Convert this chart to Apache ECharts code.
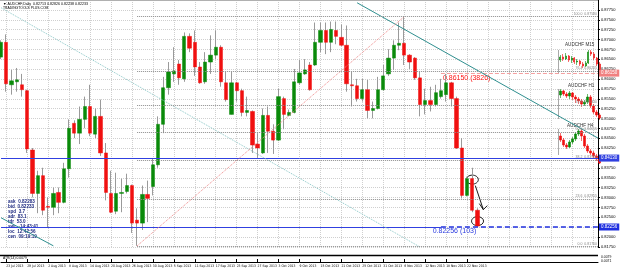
<!DOCTYPE html>
<html>
<head>
<meta charset="utf-8">
<script src="https://cdn.jsdelivr.net/npm/echarts@6/dist/echarts.min.js"></script>
<style>
  html, body { margin: 0; padding: 0; background: #fff; }
  #myChart { width: 625px; height: 271px; }
</style>
</head>
<body>
<div id="myChart"></div>
<script>
// daily bars, AUDCHF
const dates = [
  "22 Jul 2013", "23 Jul 2013", "24 Jul 2013", "25 Jul 2013", "26 Jul 2013", "29 Jul 2013", "30 Jul 2013", "31 Jul 2013",
  "1 Aug 2013", "2 Aug 2013", "5 Aug 2013", "6 Aug 2013", "7 Aug 2013", "8 Aug 2013", "9 Aug 2013",
  "12 Aug 2013", "13 Aug 2013", "14 Aug 2013", "15 Aug 2013", "16 Aug 2013",
  "19 Aug 2013", "20 Aug 2013", "21 Aug 2013", "22 Aug 2013", "23 Aug 2013",
  "26 Aug 2013", "27 Aug 2013", "28 Aug 2013", "29 Aug 2013", "30 Aug 2013",
  "2 Sep 2013", "3 Sep 2013", "4 Sep 2013", "5 Sep 2013", "6 Sep 2013",
  "9 Sep 2013", "10 Sep 2013", "11 Sep 2013", "12 Sep 2013", "13 Sep 2013",
  "16 Sep 2013", "17 Sep 2013", "18 Sep 2013", "19 Sep 2013", "20 Sep 2013",
  "23 Sep 2013", "24 Sep 2013", "25 Sep 2013", "26 Sep 2013", "27 Sep 2013",
  "30 Sep 2013", "1 Oct 2013", "2 Oct 2013", "3 Oct 2013", "4 Oct 2013",
  "7 Oct 2013", "8 Oct 2013", "9 Oct 2013", "10 Oct 2013", "11 Oct 2013",
  "14 Oct 2013", "15 Oct 2013", "16 Oct 2013", "17 Oct 2013", "18 Oct 2013",
  "21 Oct 2013", "22 Oct 2013", "23 Oct 2013", "24 Oct 2013", "25 Oct 2013",
  "28 Oct 2013", "29 Oct 2013", "30 Oct 2013", "31 Oct 2013", "1 Nov 2013",
  "4 Nov 2013", "5 Nov 2013", "6 Nov 2013", "7 Nov 2013", "8 Nov 2013",
  "11 Nov 2013", "12 Nov 2013", "13 Nov 2013", "14 Nov 2013", "15 Nov 2013",
  "18 Nov 2013", "19 Nov 2013", "20 Nov 2013", "21 Nov 2013", "22 Nov 2013",
  "25 Nov 2013", "26 Nov 2013"
];
const futureSlots = 23;

const open = [
  0.86555, 0.8693, 0.85855, 0.8593, 0.85855, 0.85705, 0.84205, 0.83105, 0.83555, 0.8278,
  0.82755, 0.8313, 0.8288, 0.8373, 0.8488, 0.8463, 0.8498, 0.85305, 0.84605, 0.85055,
  0.8413, 0.83105, 0.82655, 0.83105, 0.83155, 0.83305, 0.8243, 0.82355, 0.8308, 0.8328,
  0.8383, 0.84855, 0.8578, 0.8613, 0.8638, 0.86005, 0.8708, 0.8693, 0.86305, 0.8593,
  0.8643, 0.86605, 0.86805, 0.85905, 0.85105, 0.85905, 0.85705, 0.85155, 0.8518, 0.84355,
  0.8413, 0.8508, 0.8468, 0.84455, 0.85505, 0.8508, 0.85155, 0.85905, 0.8613, 0.86355,
  0.86355, 0.8693, 0.8723, 0.8693, 0.8723, 0.87055, 0.86855, 0.85855, 0.8583, 0.85505,
  0.8573, 0.85205, 0.85255, 0.8573, 0.8613, 0.8653, 0.86855, 0.86905, 0.86605, 0.8653,
  0.8603, 0.85355, 0.85455, 0.85355, 0.85555, 0.85605, 0.85905, 0.85505, 0.84255, 0.83055,
  0.8348, 0.8268
];
const close = [
  0.8693, 0.8588, 0.85955, 0.8598, 0.8573, 0.8423, 0.83105, 0.83555, 0.8268, 0.82755,
  0.83105, 0.8288, 0.8373, 0.84755, 0.8463, 0.8498, 0.85305, 0.8463, 0.85055, 0.8413,
  0.8313, 0.8263, 0.83105, 0.8313, 0.83305, 0.82355, 0.82355, 0.8308, 0.8298, 0.8383,
  0.84855, 0.8578, 0.8618, 0.86205, 0.8603, 0.8708, 0.8678, 0.86305, 0.85905, 0.8643,
  0.86605, 0.86805, 0.8593, 0.8548, 0.85905, 0.85705, 0.85155, 0.85205, 0.8433, 0.84255,
  0.8508, 0.8468, 0.84455, 0.85555, 0.85105, 0.85155, 0.8593, 0.86155, 0.8623, 0.8573,
  0.8693, 0.8723, 0.8693, 0.87255, 0.8708, 0.86855, 0.8588, 0.8583, 0.85505, 0.8573,
  0.85205, 0.85255, 0.8573, 0.8608, 0.8653, 0.86855, 0.86905, 0.86605, 0.8643, 0.8603,
  0.85355, 0.85455, 0.85355, 0.85655, 0.85705, 0.85905, 0.85505, 0.84255, 0.83055, 0.8348,
  0.8268, 0.8228
];
const high = [
  0.8698, 0.8713, 0.8623, 0.8628, 0.8613, 0.8573, 0.84255, 0.8368, 0.83755, 0.83005,
  0.83255, 0.83255, 0.8388, 0.8498, 0.84955, 0.85305, 0.85555, 0.85855, 0.85255, 0.8548,
  0.8438, 0.8368, 0.8363, 0.8348, 0.83605, 0.8333, 0.8273, 0.83305, 0.8343, 0.8398,
  0.85055, 0.86055, 0.8643, 0.86805, 0.8648, 0.8718, 0.87155, 0.8723, 0.8643, 0.8668,
  0.87105, 0.8723, 0.86855, 0.8618, 0.8618, 0.8593, 0.85755, 0.85555, 0.85205, 0.8463,
  0.85255, 0.85305, 0.84855, 0.85755, 0.85555, 0.8523, 0.86255, 0.8648, 0.86505, 0.8643,
  0.8743, 0.8743, 0.8743, 0.87455, 0.87455, 0.8738, 0.87355, 0.8618, 0.86005, 0.86005,
  0.8598, 0.8543, 0.86055, 0.86355, 0.86755, 0.8698, 0.8743, 0.8758, 0.8663, 0.86555,
  0.8618, 0.85755, 0.85805, 0.85855, 0.86005, 0.8613, 0.8593, 0.85555, 0.84505, 0.8353,
  0.83755, 0.8273
];
const low = [
  0.86505, 0.8568, 0.85605, 0.8568, 0.85555, 0.8413, 0.83005, 0.82605, 0.82555, 0.82255,
  0.82555, 0.82605, 0.82855, 0.83505, 0.84505, 0.84355, 0.84755, 0.84555, 0.84505, 0.84055,
  0.8293, 0.82605, 0.8258, 0.8263, 0.83105, 0.82105, 0.8178, 0.8218, 0.8238, 0.83055,
  0.83755, 0.8463, 0.85605, 0.8593, 0.85855, 0.8593, 0.8668, 0.8608, 0.8588, 0.8588,
  0.8613, 0.86505, 0.85805, 0.8543, 0.85105, 0.8543, 0.85055, 0.85055, 0.8413, 0.84005,
  0.84105, 0.8413, 0.84105, 0.8443, 0.8473, 0.85055, 0.8513, 0.85855, 0.86105, 0.85705,
  0.8633, 0.8668, 0.8663, 0.8668, 0.8688, 0.8683, 0.8568, 0.85305, 0.8543, 0.8543,
  0.85005, 0.85005, 0.8523, 0.85705, 0.8608, 0.8623, 0.8673, 0.86355, 0.86255, 0.8598,
  0.85055, 0.85105, 0.8518, 0.85305, 0.85505, 0.8543, 0.85305, 0.8423, 0.8298, 0.8303,
  0.8263, 0.82256
];

// levels and lines drawn on the chart
const fibLevels = [0.8758, 0.86205, 0.8533, 0.84655, 0.83955, 0.82955, 0.8176];
const fibNames = ["100.0", "76.4", "61.8", "50.0", "38.2", "23.6", "0.0"];
const blueLevel = 0.8413;
const lowLevel = 0.82256;
const targetLevel = 0.8615;

// small inset charts [open, close, low, high]
const m15 = [
  [0.8643, 0.86505, 0.8638, 0.86555], [0.86505, 0.86455, 0.86405, 0.8658], [0.86455, 0.8653, 0.8643, 0.86605],
  [0.8653, 0.8643, 0.8638, 0.86555], [0.8643, 0.8648, 0.86355, 0.8653], [0.8648, 0.8638, 0.8633, 0.86505],
  [0.8638, 0.86405, 0.86305, 0.86455], [0.86405, 0.8633, 0.8628, 0.8643], [0.8633, 0.8628, 0.8623, 0.8638],
  [0.8628, 0.86355, 0.86255, 0.86405], [0.86355, 0.8663, 0.8633, 0.8668], [0.8663, 0.8658, 0.8653, 0.8668],
  [0.8658, 0.8648, 0.8643, 0.8663], [0.8648, 0.8633, 0.8628, 0.86505], [0.8633, 0.86155, 0.86105, 0.8638]
];
const h1 = [
  [0.85555, 0.85655, 0.8548, 0.85705], [0.85655, 0.8558, 0.8553, 0.8568], [0.8558, 0.8553, 0.8548, 0.8563],
  [0.8553, 0.85605, 0.85455, 0.85655], [0.85605, 0.85505, 0.8543, 0.8563], [0.85505, 0.85455, 0.85355, 0.85555],
  [0.85455, 0.85405, 0.8533, 0.85505], [0.85405, 0.8533, 0.85255, 0.85455], [0.8533, 0.8538, 0.8528, 0.8543],
  [0.8538, 0.85505, 0.8533, 0.8558], [0.85505, 0.8528, 0.8523, 0.85555], [0.8528, 0.8513, 0.8508, 0.8533],
  [0.8513, 0.85055, 0.85005, 0.8518], [0.85055, 0.8498, 0.8493, 0.85105]
];
const h4 = [
  [0.8453, 0.8443, 0.8438, 0.84605], [0.8443, 0.84305, 0.84255, 0.8448], [0.84305, 0.84255, 0.84205, 0.84355],
  [0.84255, 0.8438, 0.8423, 0.8443], [0.8438, 0.84455, 0.8433, 0.84505], [0.84455, 0.8458, 0.84405, 0.8463],
  [0.8458, 0.84655, 0.8453, 0.84705], [0.84655, 0.8453, 0.84405, 0.84705], [0.8453, 0.8428, 0.8423, 0.8458],
  [0.8428, 0.84155, 0.84105, 0.8433], [0.84155, 0.84105, 0.84055, 0.84205], [0.84105, 0.8403, 0.8398, 0.84155],
  [0.8403, 0.83955, 0.83905, 0.8408], [0.83955, 0.83855, 0.8383, 0.84005]
];

const infoLines = ["ask  0.82283", "bid  0.82233", "spd  3.7", "adr  83.1", "tdr  53.0", "swr  -14:43:41", "loc  12:42:56", "cen  09:19:19"];

const GREEN = "#0a8a0a";
const RED = "#f01010";
const FONT = "Liberation Sans";
const NARROW = "Liberation Sans Narrow, DejaVu Sans Condensed, Liberation Sans";

const categories = dates.concat(new Array(futureSlots).fill(""));
const lastIdx = categories.length - 1;
const labelEvery = (idx) => idx % 4 === 1 && idx < dates.length;
const gridEvery = (idx) => idx % 4 === 1;

const wickData = open.map((o, i) => [o, close[i], low[i], high[i]]);
const bodyData = open.map((o, i) => [o, close[i], Math.min(o, close[i]), Math.max(o, close[i])]);

function axisTag(text, bg) {
  return {
    show: true, position: "end", distance: 1, formatter: text,
    color: "#fff", backgroundColor: bg, padding: [1, 2], fontSize: 4.5, fontFamily: FONT
  };
}

const markLines = [
  { yAxis: blueLevel, lineStyle: { color: "#3040e0", width: 1, type: "solid" }, label: axisTag("0.84130", "#3040e0") },
  [{ coord: [0, lowLevel], lineStyle: { color: "#3040e0", width: 1, type: "solid" } }, { coord: [84, lowLevel] }],
  [{ coord: [84, lowLevel], lineStyle: { color: "#2030e0", width: 1.6, type: [5, 3] }, label: axisTag("0.82256", "#2030e0") }, { coord: [lastIdx, lowLevel] }],
  [{ coord: [84, targetLevel], lineStyle: { color: "#f4a0a0", width: 1.2, type: [4, 2] }, label: axisTag("0.86150", "#f08080") }, { coord: [lastIdx, targetLevel] }],
  [{ coord: [68, 0.8793], lineStyle: { color: "#2f8f8f", width: 1, type: "solid" } }, { coord: [lastIdx, 0.84505] }],
  [{ coord: [0, 0.87805], lineStyle: { color: "#8cc8c8", width: 1, type: "dotted" } }, { coord: [80, 0.8175] }],
  [{ coord: [0, 0.8249], lineStyle: { color: "#2f8f8f", width: 1, type: "solid" } }, { coord: [10, 0.8178] }],
  [{ coord: [26, 0.8178], lineStyle: { color: "#f08a8a", width: 1, type: "dotted" } }, { coord: [77, 0.8758] }]
];
fibLevels.forEach((lv, k) => {
  markLines.push([
    {
      coord: [26, lv],
      lineStyle: { color: "#8a8a8a", width: 1, type: "dotted" },
      label: {
        show: true, position: "insideEndTop", distance: 1,
        formatter: fibNames[k] + "  " + lv.toFixed(5),
        color: "#888", fontSize: 3.5, fontFamily: FONT
      }
    },
    { coord: [lastIdx, lv] }
  ]);
});

function inset(idx, data) {
  return {
    type: "candlestick", xAxisIndex: idx, yAxisIndex: idx, data: data, barWidth: 1.6,
    itemStyle: { color: GREEN, color0: RED, borderColor: GREEN, borderColor0: RED, borderWidth: 0.6 }
  };
}
function insetX(idx, data) {
  return { type: "category", gridIndex: idx, data: data.map((d, i) => i), show: false };
}
function insetY(idx, min, max) {
  return { type: "value", gridIndex: idx, min: min, max: max, show: false, splitLine: { show: false } };
}

let myChart = echarts.init(document.getElementById("myChart"));

let option = {
  animation: false,
  backgroundColor: "#fff",
  grid: [
    { left: 1, right: 27, top: -3, height: 250 },
    { left: 559, width: 42, top: 48, height: 27 },
    { left: 559, width: 42, top: 86, height: 36 },
    { left: 559, width: 42, top: 126, height: 40 }
  ],
  xAxis: [
    {
      type: "category",
      data: categories,
      boundaryGap: false,
      offset: 15,
      axisLine: { show: true, lineStyle: { color: "#000", width: 1 } },
      axisTick: { show: true, inside: true, length: 3, interval: labelEvery, lineStyle: { color: "#000" } },
      axisLabel: { interval: labelEvery, fontSize: 3.4, margin: 2.5, align: "left", color: "#000", fontFamily: NARROW },
      splitLine: { show: true, interval: gridEvery, lineStyle: { color: "#cfcfcf", type: "dotted" } }
    },
    insetX(1, m15), insetX(2, h1), insetX(3, h4)
  ],
  yAxis: [
    {
      type: "value",
      position: "right",
      min: 0.8175,
      max: 0.88,
      interval: 0.0025,
      axisLine: { show: true, lineStyle: { color: "#000", width: 1 } },
      axisTick: { show: true, length: 2, lineStyle: { color: "#000" } },
      axisLabel: {
        fontSize: 4, margin: 3, color: "#000", fontFamily: FONT, showMaxLabel: false,
        formatter: (v) => v.toFixed(5)
      },
      splitLine: { show: true, lineStyle: { color: "#cfcfcf", type: "dotted" } }
    },
    insetY(1, 0.86055, 0.8673), insetY(2, 0.8488, 0.8578), insetY(3, 0.8378, 0.8478)
  ],
  series: [
    {
      name: "wick",
      type: "candlestick",
      data: wickData,
      barWidth: 1,
      itemStyle: { color: "#9a9a9a", color0: "#9a9a9a", borderColor: "#9a9a9a", borderColor0: "#9a9a9a", borderWidth: 1 },
      z: 2
    },
    {
      name: "AUDCHF",
      type: "candlestick",
      data: bodyData,
      barWidth: 3.8,
      itemStyle: { color: GREEN, color0: RED, borderColor: GREEN, borderColor0: RED, borderWidth: 0.5 },
      z: 3,
      markLine: { silent: true, symbol: ["none", "none"], label: { show: false }, data: markLines }
    },
    inset(1, m15), inset(2, h1), inset(3, h4)
  ]
};

myChart.setOption(option);

// annotations placed from data coordinates
const toPx = (i, p) => myChart.convertToPixel({ gridIndex: 0 }, [i, p]);
const pTarget = toPx(84, targetLevel);
const pLow = toPx(83, lowLevel);
const c1 = toPx(90, 0.83455);
const c2 = toPx(91, 0.82405);

const txt = (x, y, text, size, fill, weight) => ({
  type: "text", x: x, y: y, silent: true,
  style: { text: text, fontSize: size, fill: fill, fontFamily: FONT, fontWeight: weight || "normal" }
});
const seg = (x1, y1, x2, y2, stroke, w) => ({
  type: "line", silent: true, shape: { x1: x1, y1: y1, x2: x2, y2: y2 }, style: { stroke: stroke, lineWidth: w }
});

const graphics = [
  seg(0, 0.5, 598, 0.5, "#b0b0b0", 1),
  txt(3, 1.5, "\u25BC AUDCHF,Daily  0.82713 0.82826 0.82238 0.82233", 3.6, "#000"),
  txt(3, 6.5, "TRADINGTOOLS PLUS.COM", 3.4, "#000"),
  txt(pTarget[0] + 2, pTarget[1] + 1, "0.86150 (3826)", 7, "#ff1a1a"),
  txt(pLow[0] - 3, pLow[1] + 1, "0.82256 (103)", 7, "#2a3adf"),
  seg(0, 255.5, 598, 255.5, "#000", 1.6),
  txt(3, 256.8, "ATR(14) 0.0079", 3.4, "#000"),
  txt(601, 255.8, "0.0079", 3.4, "#000"),
  txt(601, 259.4, "0.0071", 3.4, "#000"),
  { type: "ellipse", silent: true, shape: { cx: c1[0], cy: c1[1], rx: 6, ry: 4.5 }, style: { fill: "none", stroke: "#000", lineWidth: 0.9 } },
  { type: "ellipse", silent: true, shape: { cx: c2[0], cy: c2[1], rx: 6, ry: 4.5 }, style: { fill: "none", stroke: "#000", lineWidth: 0.9 } },
  seg(c1[0] + 3, c1[1] + 6, c1[0] + 11, c1[1] + 30, "#000", 0.9),
  seg(c1[0] + 11, c1[1] + 30, c1[0] + 7, c1[1] + 24, "#000", 0.9),
  seg(c1[0] + 11, c1[1] + 30, c1[0] + 15, c1[1] + 26, "#000", 0.9),
  txt(565, 42.5, "AUDCHF M15", 4.6, "#333"),
  txt(568, 83.5, "AUDCHF H1", 4.6, "#333"),
  txt(567, 123.5, "AUDCHF H4", 4.6, "#333"),
  seg(558.5, 50, 558.5, 74, "#aaa", 1),
  seg(558.5, 89, 558.5, 119, "#aaa", 1),
  seg(558.5, 129, 558.5, 155, "#aaa", 1)
];
infoLines.forEach((line, k) => {
  graphics.push(txt(8, 199 + k * 5, line, 4.6, "#1e2a80", "bold"));
});

myChart.setOption({ graphic: graphics });
</script>
</body>
</html>
